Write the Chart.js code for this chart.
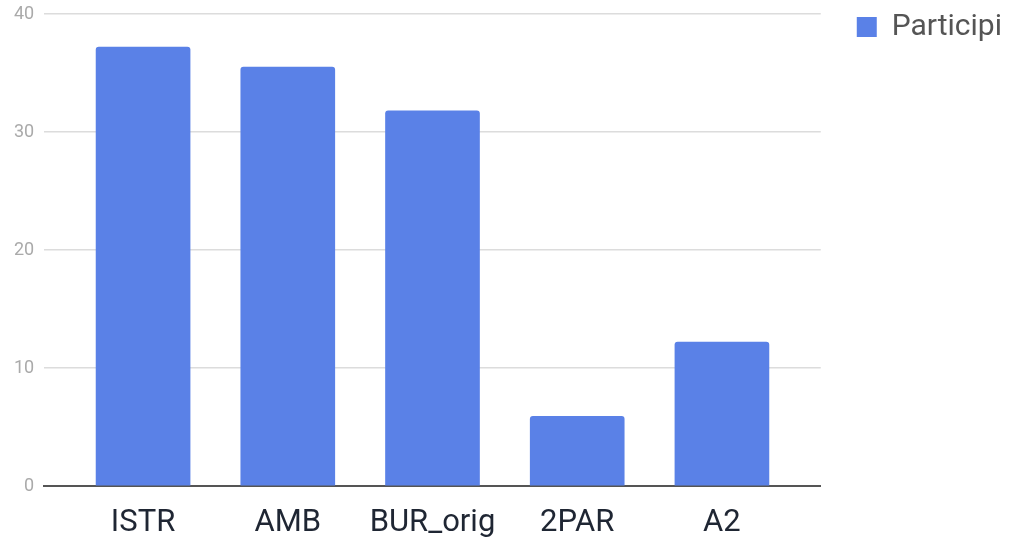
<!DOCTYPE html>
<html>
<head>
<meta charset="utf-8">
<script src="https://cdn.jsdelivr.net/npm/chart.js@4/dist/chart.umd.min.js"></script>
<style>
  html, body { margin: 0; padding: 0; background: #fff; }
  #wrap { width: 1012px; height: 540px; position: relative; }
</style>
</head>
<body>
<div id="wrap"><canvas id="chart"></canvas></div>
<script>
  // values
  const categories = ['ISTR', 'AMB', 'BUR_orig', '2PAR', 'A2'];
  const partecipi = [37.2, 35.5, 31.8, 5.9, 12.2];
  const yTicks = [0, 10, 20, 30, 40];

  const barColor = '#5a81e7';

  // keep the plot top at ~14px without pushing the legend down
  const plotPad = axis => { axis.paddingTop = 14; axis.paddingBottom = 0; };

  new Chart(document.getElementById('chart'), {
    type: 'bar',
    data: {
      datasets: [{
        label: 'Participi',
        data: partecipi.map((v, i) => ({ x: i, y: v })),
        backgroundColor: barColor,
        borderColor: barColor,
        borderWidth: 0,
        borderRadius: { topLeft: 3, topRight: 3 },
        borderSkipped: 'bottom',
        barThickness: 94
      }]
    },
    options: {
      responsive: true,
      maintainAspectRatio: false,
      animation: false,
      layout: { padding: { top: 0, right: 0, bottom: 0, left: 4 } },
      plugins: {
        tooltip: { enabled: false },
        legend: {
          position: 'right',
          align: 'start',
          labels: {
            color: '#555',
            boxWidth: 20,
            boxHeight: 20,
            padding: 12,
            font: { family: 'Roboto', size: 30 }
          }
        }
      },
      scales: {
        x: {
          type: 'linear',
          offset: false,
          min: -0.683,
          max: categories.length - 1 + 0.683,
          afterBuildTicks: axis => { axis.ticks = categories.map((_, i) => ({ value: i })); },
          afterFit: axis => { axis.height = 54; },
          ticks: {
            autoSkip: false,
            maxRotation: 0,
            color: '#1f2633',
            padding: 19,
            font: { family: 'Roboto', size: 31 },
            callback: v => categories[v]
          },
          grid: { display: false, drawTicks: false },
          border: { display: true, color: '#555', width: 2 }
        },
        y: {
          min: 0,
          max: 40,
          afterBuildTicks: axis => { axis.ticks = yTicks.map(v => ({ value: v })); },
          afterFit: plotPad,
          ticks: {
            color: '#aaa',
            padding: 10,
            font: { family: 'Roboto', size: 18 }
          },
          grid: { color: '#dcdcdc', lineWidth: 1.5, drawTicks: false },
          border: { display: false }
        },
        // empty spacer between the plot and the legend
        y2: {
          position: 'right',
          display: true,
          grid: { display: false, drawTicks: false },
          border: { display: false },
          ticks: { display: false },
          afterFit: axis => { plotPad(axis); axis.width = 24; }
        }
      }
    }
  });
</script>
</body>
</html>
